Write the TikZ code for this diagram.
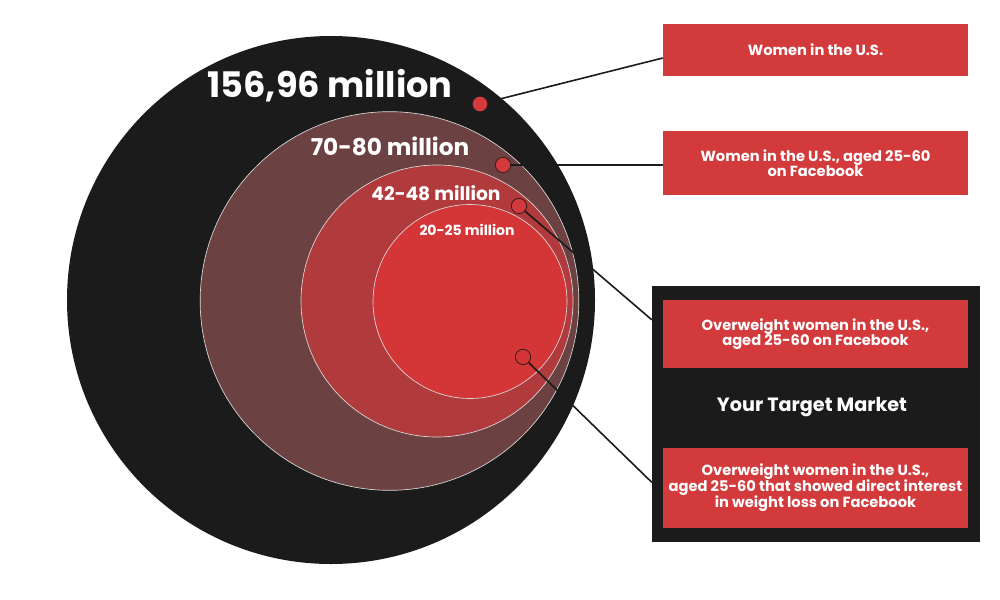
\documentclass[tikz,border=0pt]{standalone}
\usepackage{fontspec}
\setmainfont{Poppins}
\newfontfamily\boxfont{Poppins}
\definecolor{ink}{HTML}{1B1B1B}
\definecolor{ringA}{HTML}{6B4142}
\definecolor{ringB}{HTML}{B03A3C}
\definecolor{ringC}{HTML}{D43537}
\definecolor{boxred}{HTML}{D33A3C}
\definecolor{dotline}{HTML}{3A1C1C}
\begin{document}
\begin{tikzpicture}[x=0.75pt,y=-0.75pt,
  disc/.style={circle,inner sep=0pt,draw=white!85!black,line width=0.5pt},
  lbl/.style={text=white,font=\bfseries,inner sep=0pt},
  redbox/.style={fill=boxred,draw=none,minimum width=228.75pt,inner sep=0pt,text=white,
     font=\boxfont\bfseries\fontsize{11}{11.6}\selectfont,align=center},
  lead/.style={draw=ink,line width=1.2pt},
  dotA/.style={circle,fill=boxred,inner sep=0pt,minimum size=11pt},
  dotB/.style={circle,fill=boxred,draw=dotline,line width=0.6pt,inner sep=0pt,minimum size=11.5pt}]
\useasboundingbox (0,0) rectangle (1000,600);
% circles
\node[disc,fill=ink,draw=none,minimum size=396pt] (c1) at (331,300) {};
\node[disc,fill=ringA,minimum size=284pt] (c2) at (389.5,301) {};
\node[disc,fill=ringB,minimum size=204pt] (c3) at (437,301) {};
\node[disc,fill=ringC,minimum size=145.5pt] (c4) at (470,301.5) {};
% labels
\node[lbl,font=\bfseries\fontsize{26.4}{30}\selectfont] (l1) at (330,86) {156,96 million};
\node[lbl,font=\bfseries\fontsize{17.4}{20}\selectfont] (l2) at (390,146.5) {70-80 million};
\node[lbl,font=\bfseries\fontsize{14}{16}\selectfont] (l3) at (436,193.5) {42-48 million};
\node[lbl,font=\bfseries\fontsize{10.5}{12}\selectfont] (l4) at (467,230) {20-25 million};
% target box
\node[fill=ink,minimum width=246pt,minimum height=192pt,inner sep=0pt] (tb) at (816,414) {};
% boxes
\node[redbox,minimum height=39pt] (b1) at (815.5,50) {Women in the U.S.};
\node[redbox,minimum height=48pt] (b2) at (815.5,163) {Women in the U.S., aged 25-60\\on Facebook};
\node[redbox,minimum height=51pt] (b3) at (815.5,334) {Overweight women in the U.S.,\\aged 25-60 on Facebook};
\node[redbox,minimum height=60pt,font=\boxfont\bfseries\fontsize{11}{12}\selectfont] (b4) at (815.5,488) {Overweight women in the U.S.,\\aged 25-60 that showed direct interest\\in weight loss on Facebook};
\node[text=white,font=\boxfont\bfseries\fontsize{14.4}{17}\selectfont,inner sep=0pt] (tm) at (812,407) {Your Target Market};
% dot anchors
\coordinate (p1) at (480,104);
\coordinate (p2) at (503,165);
\coordinate (p3) at (519,206);
\coordinate (p4) at (523,357);
% leaders
\draw[lead] (p1) -- ([yshift=-6pt]b1.west);
\draw[lead] (p2) -- (p2 -| b2.west);
\draw[lead] (p3) -- ([yshift=-25.5pt]tb.north west);
\draw[lead] (p4) -- ([yshift=45pt]tb.south west);
% dots
\node[dotA] (d1) at (p1) {};
\node[dotB] (d2) at (p2) {};
\node[dotB] (d3) at (p3) {};
\node[dotB,fill=ringC] (d4) at (p4) {};
\end{tikzpicture}
\end{document}
